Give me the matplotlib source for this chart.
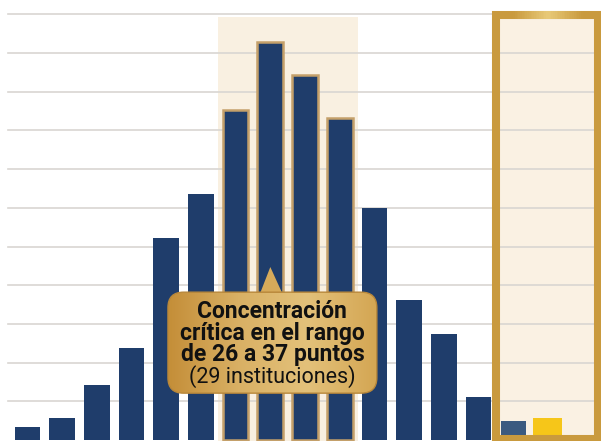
import numpy as np
import matplotlib
matplotlib.use("Agg")
import matplotlib.pyplot as plt
from matplotlib.patches import Rectangle, FancyBboxPatch, Polygon
from matplotlib.colors import LinearSegmentedColormap

# DATA (one grid step = 1 unit)
bins = list(range(16))
values = [0.34, 0.57, 1.42, 2.38, 5.22, 6.36, 8.53, 10.28,
          9.43, 8.32, 6.00, 3.62, 2.73, 1.11, 0.49, 0.57]
highlight_bins = [6, 7, 8, 9]
note_lines = ["Concentración", "crítica en el rango", "de 26 a 37 puntos"]
note_light = "(29 instituciones)"

# COLOURS
navy = "#1f3d6b"
steel = "#3b5a80"
yellow = "#f6c619"
cream = "#f9f0e1"
gold = "#c99a3e"

fig = plt.figure(figsize=(6.01, 4.41), dpi=100)
ax = fig.add_axes([0, 0, 1, 1])
ax.set_xlim(-0.79, 16.53)
ax.set_ylim(-0.026, 11.37)
ax.axis("off")

# highlighted band behind the peak
ax.add_patch(Rectangle((5.49, -0.1), 9.52 - 5.49, 10.93 + 0.1,
                       facecolor=cream, edgecolor="none", zorder=0))

# box on the right (cream fill)
ax.add_patch(Rectangle((13.50, 0.03), 16.44 - 13.50, 10.97 - 0.03,
                       facecolor="#faf1e3", edgecolor="none", zorder=0))

# grid lines
for g in range(1, 12):
    ax.plot([-0.56, 16.6], [g, g], color="#d9d6d2", lw=1.2, zorder=1)

# bars
colors = []
widths = []
for i in bins:
    if i == 14:
        colors.append(steel)
        widths.append(0.72)
    elif i == 15:
        colors.append(yellow)
        widths.append(0.84)
    else:
        colors.append(navy)
        widths.append(0.74)
bars = ax.bar(bins, values, width=widths, color=colors, zorder=3)
for i in highlight_bins:
    bars[i].set_edgecolor("#c4a06a")
    bars[i].set_linewidth(1.8)

# gold frame of the right box
ax.add_patch(Rectangle((13.50, 0.03), 16.44 - 13.50, 10.97 - 0.03,
                       facecolor="none", edgecolor=gold, lw=5.8, zorder=4))
seg = np.linspace(14.0, 16.0, 41)
for a0, a1 in zip(seg[:-1], seg[1:]):
    m = (a0 + a1) / 2
    alpha = max(0.0, 1 - abs(m - 15.0) / 1.0) * 0.75
    ax.plot([a0, a1], [10.97, 10.97], color="#f3da8c", lw=5.8, alpha=alpha,
            solid_capstyle="butt", zorder=5)

# annotation box with gold gradient
x0, x1, y0, y1 = 4.05, 10.07, 1.21, 3.82
cmap = LinearSegmentedColormap.from_list("g", ["#c48e38", "#d9b064", "#e3c17a", "#d4a653"])
box = FancyBboxPatch((x0, y0), x1 - x0, y1 - y0,
                     boxstyle="round,pad=0,rounding_size=0.45",
                     mutation_aspect=1 / 1.12,
                     facecolor="none", edgecolor="#b8873a", lw=1, zorder=7)
ax.add_patch(box)
grad = np.linspace(0, 1, 256).reshape(1, -1)
im = ax.imshow(grad, extent=(x0, x1, y0, y1), cmap=cmap, aspect="auto", zorder=6)
im.set_clip_path(box)
ax.add_patch(Polygon([[6.71, y1 - 0.02], [7.0, 4.47], [7.34, y1 - 0.02]],
                     closed=True, facecolor="#d6aa5a", edgecolor="none", zorder=6))

cx = (x0 + x1) / 2
for line, yy in zip(note_lines, [3.31, 2.76, 2.22]):
    ax.text(cx, yy, line, ha="center", va="center", fontsize=16.5,
            fontweight="bold", family="Roboto", color="#111111", zorder=8)
ax.text(cx, 1.65, note_light, ha="center", va="center", fontsize=15.5,
        family="Roboto", color="#111111", zorder=8)

fig.savefig("out.png", dpi=100)
